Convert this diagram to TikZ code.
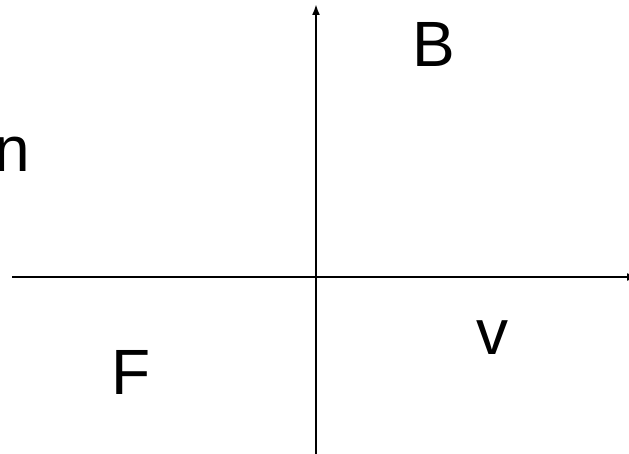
\documentclass[tikz,border=0pt]{standalone}
\usepackage{fontspec}
\setmainfont{Liberation Sans}
\usetikzlibrary{arrows.meta}
\begin{document}
\begin{tikzpicture}[x=1pt,y=1pt,
  axis/.style={line width=2pt,-{Latex[length=11pt,width=8pt]}},
  lbl/.style={inner sep=0pt,font=\fontsize{64}{70}\selectfont}]
\useasboundingbox (0,0) rectangle (629,453);
\clip (0,0) rectangle (629,453);
\coordinate (hs) at (12,176);
\coordinate (he) at (638,176);
\coordinate (vs) at (316,-5);
\coordinate (ve) at (316,449);
\draw[axis] (hs) -- (he);
\draw[axis] (vs) -- (ve);
\node[lbl,anchor=base] (B) at (433.5,386) {B};
\node[lbl,anchor=base] (F) at (130.7,59) {F};
\node[lbl,anchor=base] (v) at (492,99) {v};
\node[lbl,anchor=base west] (n) at (-6,281) {n};
\end{tikzpicture}
\end{document}
